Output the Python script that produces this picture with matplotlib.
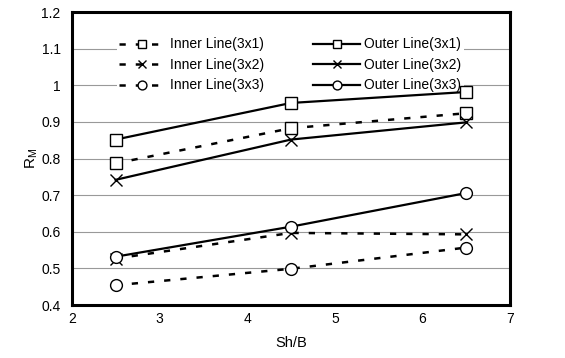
import matplotlib.pyplot as plt

plt.rcParams['font.family'] = ['Liberation Sans', 'DejaVu Sans']

# Data
x = [2.5, 4.5, 6.5]
inner_3x1 = [0.787, 0.883, 0.924]
outer_3x1 = [0.852, 0.952, 0.982]
inner_3x2 = [0.527, 0.597, 0.593]
outer_3x2 = [0.742, 0.852, 0.899]
inner_3x3 = [0.454, 0.499, 0.557]
outer_3x3 = [0.532, 0.614, 0.706]

labels = ["Inner Line(3x1)", "Outer Line(3x1)", "Inner Line(3x2)",
          "Outer Line(3x2)", "Inner Line(3x3)", "Outer Line(3x3)"]

fig = plt.figure(figsize=(5.65, 3.58), dpi=100)
ax = fig.add_axes([0.127, 0.148, 0.776, 0.818])

dash = dict(color='black', linestyle=(0, (2.5, 4)), linewidth=1.8,
            markerfacecolor='white', markeredgecolor='black', markersize=8.5, markeredgewidth=1)
solid = dict(color='black', linestyle='-', linewidth=1.6,
             markerfacecolor='white', markeredgecolor='black', markersize=8.5, markeredgewidth=1)

h1, = ax.plot(x, inner_3x1, marker='s', label=labels[0], **dash)
h2, = ax.plot(x, outer_3x1, marker='s', label=labels[1], **solid)
h3, = ax.plot(x, inner_3x2, marker='x', label=labels[2], **dash)
h4, = ax.plot(x, outer_3x2, marker='x', label=labels[3], **solid)
h5, = ax.plot(x, inner_3x3, marker='o', label=labels[4], **dash)
h6, = ax.plot(x, outer_3x3, marker='o', label=labels[5], **solid)

ax.set_xlim(2, 7)
ax.set_ylim(0.4, 1.2)
ax.set_xticks([2, 3, 4, 5, 6, 7])
ax.set_yticks([0.4, 0.5, 0.6, 0.7, 0.8, 0.9, 1.0, 1.1, 1.2])
ax.set_yticklabels(["0.4", "0.5", "0.6", "0.7", "0.8", "0.9", "1", "1.1", "1.2"])
ax.tick_params(axis='y', labelsize=10, length=0, pad=8)
ax.tick_params(axis='x', labelsize=10, length=0, pad=5)
ax.grid(axis='y', color='#999999', linewidth=0.8)
ax.set_axisbelow(True)
for s in ax.spines.values():
    s.set_linewidth(2.2)

ax.set_xlabel("Sh/B", fontsize=10.5, labelpad=7)
ax.set_ylabel("R$_\\mathregular{M}$", fontsize=11, labelpad=1)

# legend box is white (hides the 1.1 grid line) but sits under the data lines
leg = ax.legend(handles=[h1, h3, h5, h2, h4, h6], ncol=2, frameon=True,
                facecolor='white', edgecolor='none', framealpha=1, fancybox=False,
                loc='upper left', bbox_to_anchor=(0.09, 0.94), fontsize=10,
                handlelength=3.4, handletextpad=0.3, columnspacing=3.5,
                labelspacing=0.47, borderaxespad=0.4, borderpad=0.15, markerscale=0.75)
leg.set_zorder(1.5)

plt.savefig("out.png", dpi=100)
